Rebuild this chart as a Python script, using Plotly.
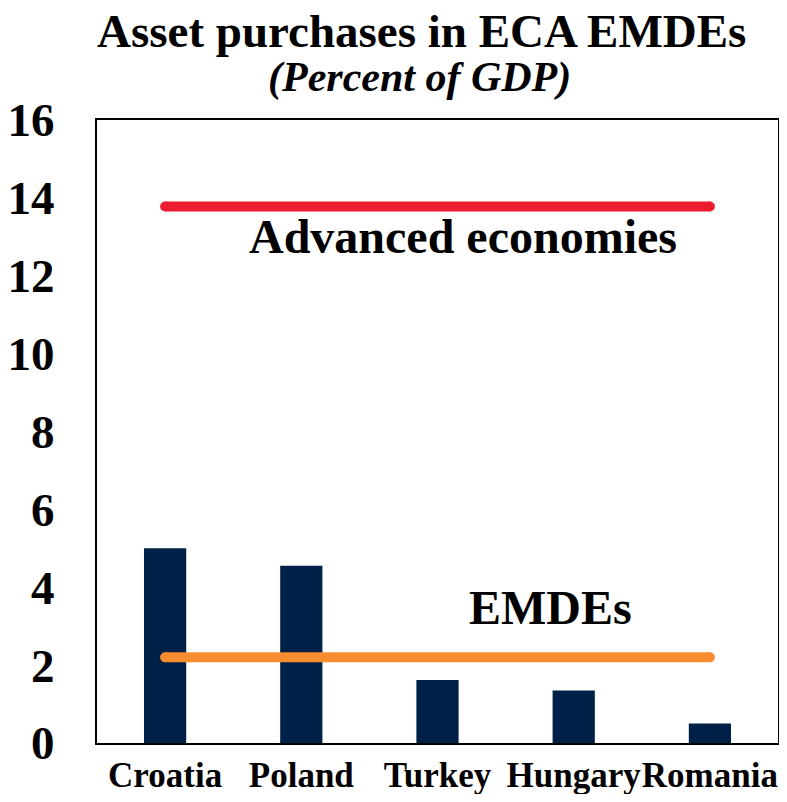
import plotly.graph_objects as go

countries = ["Croatia", "Poland", "Turkey", "Hungary", "Romania"]
purchases = [5.0, 4.55, 1.62, 1.35, 0.5]

advanced_avg = 13.78
emde_avg = 2.2

y_ticks = [0, 2, 4, 6, 8, 10, 12, 14, 16]

FONT = "Liberation Serif"

fig = go.Figure()

fig.add_trace(
    go.Bar(
        x=countries,
        y=purchases,
        width=0.31,
        marker=dict(color="#002147", line=dict(width=0)),
        showlegend=False,
    )
)

# average lines drawn across the categories, round ends via markers
line_x = [countries[0], countries[-1]]
fig.add_trace(
    go.Scatter(
        x=line_x,
        y=[advanced_avg, advanced_avg],
        mode="lines+markers",
        line=dict(color="#ED1C2E", width=10),
        marker=dict(color="#ED1C2E", size=10),
        showlegend=False,
    )
)
fig.add_trace(
    go.Scatter(
        x=line_x,
        y=[emde_avg, emde_avg],
        mode="lines+markers",
        line=dict(color="#F68D2E", width=10),
        marker=dict(color="#F68D2E", size=10),
        showlegend=False,
    )
)

fig.add_annotation(
    x=2.19, y=13.0, text="Advanced economies", showarrow=False,
    font=dict(family=FONT, size=48, color="black", weight="bold"),
)
fig.add_annotation(
    x=2.83, y=3.49, text="EMDEs", showarrow=False,
    font=dict(family=FONT, size=48, color="black", weight="bold"),
)

# title and subtitle
fig.add_annotation(
    xref="paper", yref="paper", x=0.476, y=1.143,
    xanchor="center", yanchor="middle",
    text="Asset purchases in ECA EMDEs", showarrow=False,
    font=dict(family=FONT, size=47, color="black", weight="bold"),
)
fig.add_annotation(
    xref="paper", yref="paper", x=0.474, y=1.069,
    xanchor="center", yanchor="middle",
    text="<i>(Percent of GDP)</i>", showarrow=False,
    font=dict(family=FONT, size=42, color="black", weight="bold"),
)

fig.update_layout(
    width=771,
    height=786,
    margin=dict(l=89, r=1, t=112, b=51),
    paper_bgcolor="white",
    plot_bgcolor="white",
    xaxis=dict(
        range=[-0.5, 4.5],
        showline=True,
        linecolor="black",
        linewidth=2,
        mirror=True,
        ticks="",
        tickangle=0,
        ticklabelstandoff=0,
        tickfont=dict(family=FONT, size=35, color="black", weight="bold"),
        showgrid=False,
        automargin=False,
    ),
    yaxis=dict(
        range=[0, 16],
        tickvals=y_ticks,
        showline=True,
        linecolor="black",
        linewidth=2,
        mirror=True,
        ticks="",
        ticklabelstandoff=31,
        tickfont=dict(family=FONT, size=47, color="black", weight="bold"),
        showgrid=False,
        zeroline=False,
        automargin=False,
    ),
)

fig.write_html("out.html")
